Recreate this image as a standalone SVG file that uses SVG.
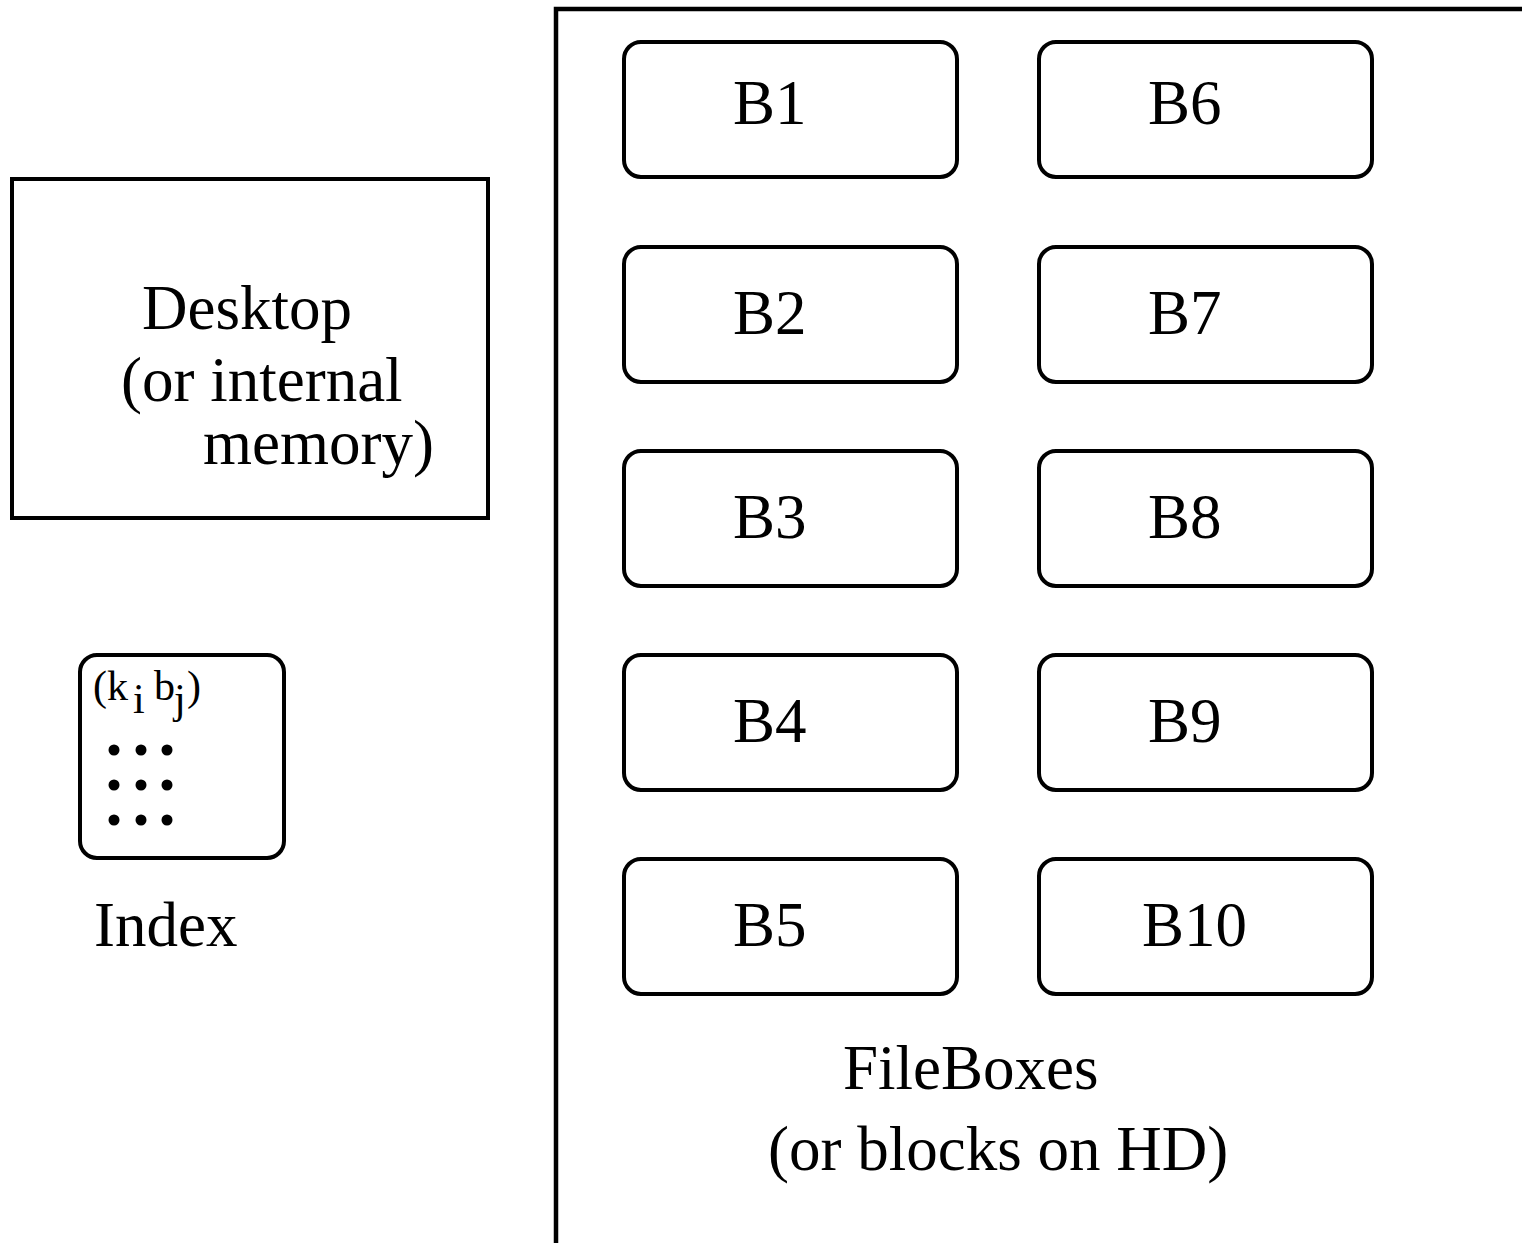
<svg xmlns="http://www.w3.org/2000/svg" width="1522" height="1243" viewBox="0 0 1522 1243">
<style>
text { font-family: "Liberation Serif", "Times New Roman", serif; fill: #000; }
.lbl { font-size: 63px; }
.small { font-size: 42px; }
.box { fill: #fff; stroke: #000; stroke-width: 4; }
.frame { fill: none; stroke: #000; stroke-width: 4.5; }
.dot { fill: #000; }
</style>
<rect width="1522" height="1243" fill="#fff"/>
<g id="fileboxes-frame">
  <path class="frame" d="M556,1243 V9 H1522"/>
  <text class="lbl" x="843" y="1089">FileBoxes</text>
  <text class="lbl" x="768" y="1170">(or blocks on HD)</text>
</g>
<g id="desktop">
  <rect class="box" x="12" y="179" width="476" height="339"/>
  <text class="lbl" x="142" y="329">Desktop</text>
  <text class="lbl" x="121" y="401">(or internal</text>
  <text class="lbl" x="203" y="464">memory)</text>
</g>
<g id="index">
  <rect class="box" x="80" y="655" width="204" height="203" rx="17"/>
  <text class="small" x="93" y="700">(k<tspan x="133" dy="13">i</tspan><tspan x="154" dy="-13">b</tspan><tspan x="174" dy="13">j</tspan><tspan x="187" dy="-13">)</tspan></text>
  <circle class="dot" cx="114" cy="750" r="5.5"/>
  <circle class="dot" cx="141" cy="750" r="5.5"/>
  <circle class="dot" cx="167" cy="750" r="5.5"/>
  <circle class="dot" cx="114" cy="785" r="5.5"/>
  <circle class="dot" cx="141" cy="785" r="5.5"/>
  <circle class="dot" cx="167" cy="785" r="5.5"/>
  <circle class="dot" cx="114" cy="820" r="5.5"/>
  <circle class="dot" cx="141" cy="820" r="5.5"/>
  <circle class="dot" cx="167" cy="820" r="5.5"/>
  <text class="lbl" x="94" y="946">Index</text>
</g>
<g id="B1"><rect class="box" x="624" y="42" width="333" height="135" rx="17"/><text class="lbl" x="733" y="124">B1</text></g>
<g id="B2"><rect class="box" x="624" y="247" width="333" height="135" rx="17"/><text class="lbl" x="733" y="334">B2</text></g>
<g id="B3"><rect class="box" x="624" y="451" width="333" height="135" rx="17"/><text class="lbl" x="733" y="538">B3</text></g>
<g id="B4"><rect class="box" x="624" y="655" width="333" height="135" rx="17"/><text class="lbl" x="733" y="742">B4</text></g>
<g id="B5"><rect class="box" x="624" y="859" width="333" height="135" rx="17"/><text class="lbl" x="733" y="946">B5</text></g>
<g id="B6"><rect class="box" x="1039" y="42" width="333" height="135" rx="17"/><text class="lbl" x="1148" y="124">B6</text></g>
<g id="B7"><rect class="box" x="1039" y="247" width="333" height="135" rx="17"/><text class="lbl" x="1148" y="334">B7</text></g>
<g id="B8"><rect class="box" x="1039" y="451" width="333" height="135" rx="17"/><text class="lbl" x="1148" y="538">B8</text></g>
<g id="B9"><rect class="box" x="1039" y="655" width="333" height="135" rx="17"/><text class="lbl" x="1148" y="742">B9</text></g>
<g id="B10"><rect class="box" x="1039" y="859" width="333" height="135" rx="17"/><text class="lbl" x="1142" y="946">B10</text></g>
<g id="connectors"></g>
</svg>
